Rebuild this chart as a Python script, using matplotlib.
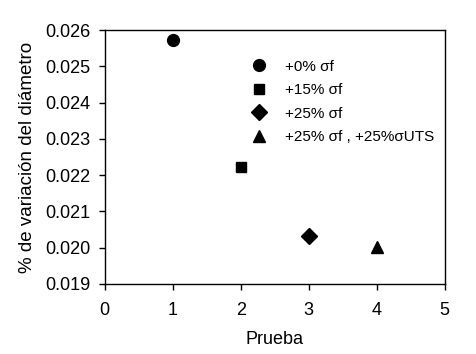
import matplotlib
matplotlib.use("Agg")
import matplotlib.pyplot as plt
from matplotlib.lines import Line2D

plt.rcParams['font.family'] = ['Liberation Sans', 'DejaVu Sans']

# data
prueba = [1, 2, 3, 4]
variacion = [0.02572, 0.02222, 0.02033, 0.02003]
marcadores = ['o', 's', 'D', '^']
tamanos = [8.5, 7.5, 8, 8.5]
etiquetas = ['+0% σf', '+15% σf', '+25% σf', '+25% σf , +25%σUTS']

fig = plt.figure(figsize=(4.77, 3.54), dpi=100)
ax = fig.add_axes([0.2195, 0.198, 0.7125, 0.717])

for x, y, m, s in zip(prueba, variacion, marcadores, tamanos):
    ax.plot(x, y, marker=m, color='black', markersize=s, linestyle='none')

ax.set_xlim(0, 5)
ax.set_ylim(0.019, 0.026)
ax.set_xticks(range(0, 6))
ax.set_yticks([0.019, 0.020, 0.021, 0.022, 0.023, 0.024, 0.025, 0.026])
ax.set_yticklabels(['%.3f' % v for v in ax.get_yticks()])
ax.tick_params(direction='out', length=4, width=1, labelsize=13, colors='black')
ax.tick_params(axis='x', pad=9)
ax.tick_params(axis='y', pad=6)
for sp in ax.spines.values():
    sp.set_linewidth(1)
ax.set_xlabel('Prueba', fontsize=13, labelpad=9)
ax.set_ylabel('% de variación del diámetro', fontsize=13.5, labelpad=7)

handles = [Line2D([], [], marker=m, color='black', linestyle='none', markersize=s)
           for m, s in zip(marcadores, tamanos)]
ax.legend(handles, etiquetas, frameon=False, fontsize=11, loc='upper left',
          bbox_to_anchor=(0.408, 0.907), handletextpad=1.1, labelspacing=0.62,
          borderaxespad=0, handlelength=1.2)

fig.savefig('out.png', dpi=100)
